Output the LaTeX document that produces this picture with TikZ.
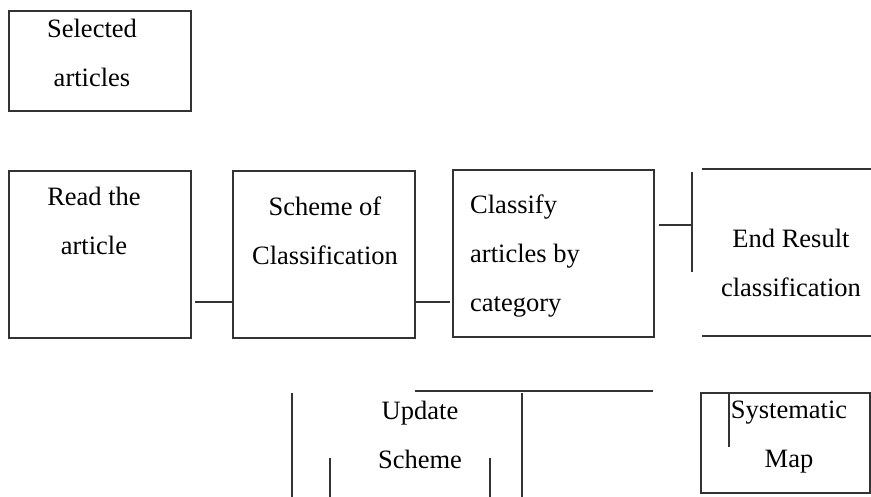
\documentclass[tikz,border=0pt]{standalone}
\usepackage{fontspec}
\setmainfont{Liberation Serif}
\begin{document}
\begin{tikzpicture}[x=1pt,y=-1pt,
  ln/.style={line width=2pt,draw=black!80},
  box/.style={ln,rectangle,inner sep=0pt,anchor=north west},
  txt/.style={font=\fontsize{26.5}{49}\selectfont,text=black,inner sep=0pt}]
\useasboundingbox (0,0) rectangle (871,497);
% boxes
\node[box,minimum width=182pt,minimum height=100pt] (sel) at (8,10) {};
\node[box,minimum width=182pt,minimum height=167pt] (read) at (8,170) {};
\node[box,minimum width=182pt,minimum height=167pt] (scheme) at (232,170) {};
\node[box,minimum width=201pt,minimum height=167pt] (classify) at (452,169) {};
\node[box,minimum width=169pt,minimum height=100pt] (map) at (700,392) {};
% texts
\node[txt,align=center] (tsel) at (92,53) {Selected\\articles};
\node[txt,align=center] (tread) at (94,221) {Read the\\article};
\node[txt,align=center] (tscheme) at (325,231) {Scheme of\\Classification};
\node[txt,align=left,anchor=west] (tclass) at (470,256) {Classify\\articles by\\category};
\node[txt,align=center] (tend) at (791,263) {End Result\\classification};
\node[txt,align=center] (tupd) at (420,435) {Update\\Scheme};
\node[txt,align=center] (tmap) at (789,437) {Systematic\\Map};
% connectors
\coordinate (y302) at (0,302);
\coordinate (y225) at (0,225);
\coordinate (endl) at (692,225);
\draw[ln] ([xshift=3pt]read.east |- y302) -- (scheme.west |- y302);
\draw[ln] (scheme.east |- y302) -- ([xshift=-2pt]classify.west |- y302);
\draw[ln] ([xshift=4pt]classify.east |- y225) -- (endl);
\draw[ln] (692,172) -- (692,272);
% open box of End Result
\draw[ln] (702,169) -- (871,169);
\draw[ln] (702,336) -- (871,336);
% broken Update Scheme frame
\draw[ln] (415,391) -- (653,391);
\draw[ln] (292,393) -- (292,497);
\draw[ln] (522,393) -- (522,497);
\draw[ln] (330,458) -- (330,497);
\draw[ln] (490,458) -- (490,497);
% stray line in Systematic Map
\draw[ln] (729,394) -- (729,447);
\end{tikzpicture}
\end{document}
